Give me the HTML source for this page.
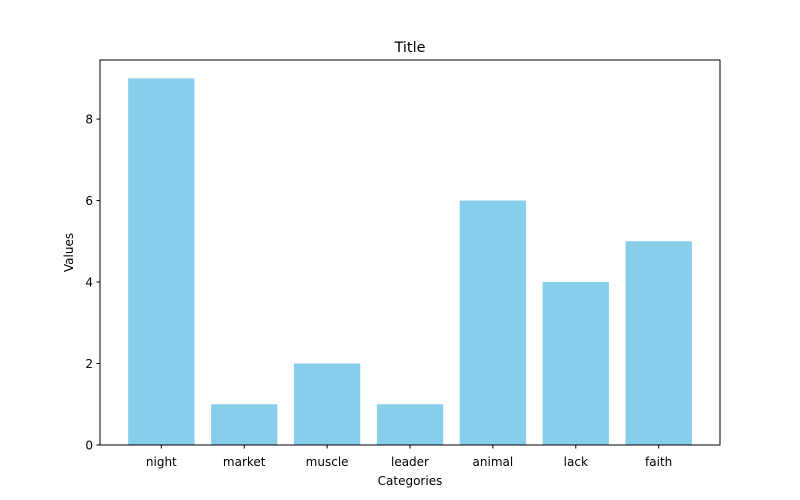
<!DOCTYPE html>
<html><head><meta charset="utf-8"><style>body{margin:0;background:#fff}svg{display:block;font-family:"DejaVu Sans","Liberation Sans",sans-serif}</style></head>
<body>
<svg id="chart" width="800" height="500">
<rect width="800" height="500" fill="#fff"/>
<text x="410" y="52" font-size="14.4" text-anchor="middle">Title</text>
<g id="bars"></g><g id="xt"></g><g id="yt"></g>
<rect x="100" y="60" width="620" height="385" fill="none" stroke="#000" stroke-width="1"/>
<text x="410" y="485" font-size="12" text-anchor="middle">Categories</text>
<text transform="translate(73,252.5) rotate(-90)" font-size="12" text-anchor="middle">Values</text>
</svg>
<script>
const categories=["night","market","muscle","leader","animal","lack","faith"];
const values=[9,1,2,1,6,4,5];
const yTicks=[0,2,4,6,8];
const L=100,R=720,T=60,B=445,NS="http://www.w3.org/2000/svg";
const xmin=-0.74,xmax=categories.length-1+0.74;
const ymax=Math.max(...values)*1.05;
const xs=v=>L+(v-xmin)/(xmax-xmin)*(R-L);
const ys=v=>B-v/ymax*(B-T);
function mk(t,a,p){const e=document.createElementNS(NS,t);for(const k in a)e.setAttribute(k,a[k]);p.appendChild(e);return e;}
const gb=document.getElementById('bars'),gx=document.getElementById('xt'),gy=document.getElementById('yt');
categories.forEach((c,i)=>{
 const x0=xs(i-0.4),x1=xs(i+0.4);
 const r=mk('rect',{x:x0,y:ys(values[i]),width:x1-x0,height:B-ys(values[i]),fill:'#87ceeb'},gb);
 
 
 const tk=mk('line',{x1:xs(i),x2:xs(i),y1:B,y2:B+3.5,stroke:'#000'},gx);
 
 
 const t=mk('text',{x:xs(i),y:B+21,'font-size':12,'text-anchor':'middle'},gx);
 t.textContent=c;
 
 
});
yTicks.forEach(v=>{
 const tk=mk('line',{x1:L-3.5,x2:L,y1:ys(v),y2:ys(v),stroke:'#000'},gy);
 
 
 const t=mk('text',{x:L-7,y:ys(v)+4.5,'font-size':12,'text-anchor':'end'},gy);
 t.textContent=v;
 
 
});
</script>
</body></html>
